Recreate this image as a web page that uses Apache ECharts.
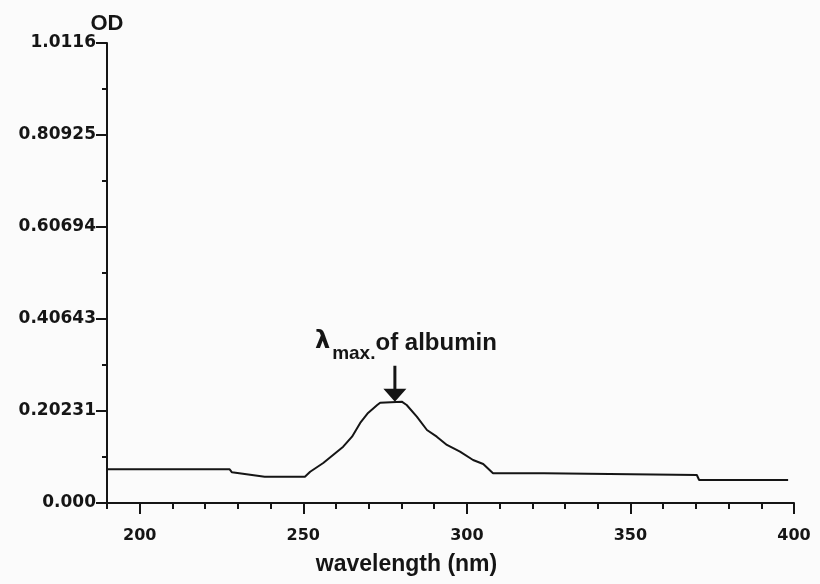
<!DOCTYPE html>
<html>
<head>
<meta charset="utf-8">
<script src="https://cdn.jsdelivr.net/npm/echarts@6/dist/echarts.min.js"></script>
<style>
  html, body { margin: 0; padding: 0; background: #fbfbfb; }
  #chart { width: 820px; height: 584px; }
</style>
</head>
<body>
<div id="chart"></div>
<script>
// wavelength (nm) and OD
var wavelength = [190, 227.5, 228.2, 238.2, 250.5, 252.1, 256.1, 259.1, 262.2, 264.9, 267.4, 269.8, 272.6, 273.5,
                  280.1, 281.6, 284.7, 287.8, 290.8, 293.9, 297.9, 301.9, 305, 308, 323.6, 324.2, 370.3, 371, 398.2];
var od = [0.0741, 0.0741, 0.0675, 0.0578, 0.0578, 0.0688, 0.088, 0.1056, 0.1238, 0.1458, 0.176, 0.198, 0.2155, 0.2206,
          0.2228, 0.2155, 0.1898, 0.1605, 0.1458, 0.1276, 0.1128, 0.0946, 0.0858, 0.0653, 0.0653, 0.0616, 0.0616, 0.0506, 0.0506];
var yTickLabels = ['0.000', '0.20231', '0.40643', '0.60694', '0.80925', '1.0116'];
var xTickLabels = [200, 250, 300, 350, 400];
var peak = [278, 0.2228];

var yMax = 1.0116;
var yStep = yMax / 5;
var ink = '#151515';

var points = [];
for (var i = 0; i < wavelength.length; i++) {
  points.push([wavelength[i], od[i]]);
}

var chart = echarts.init(document.getElementById('chart'));
chart.setOption({
  backgroundColor: '#fbfbfb',
  animation: false,
  grid: { left: 107, right: 26, top: 43, bottom: 81, containLabel: false },
  xAxis: [
    {
      type: 'value',
      min: 190,
      max: 400,
      name: 'wavelength (nm)',
      nameLocation: 'middle',
      nameGap: 50,
      nameTextStyle: {
        fontFamily: 'Liberation Sans', fontWeight: 'bold', fontSize: 23, color: ink,
        padding: [0, 88, 0, 0]
      },
      axisLine: { onZero: false, lineStyle: { color: ink, width: 2 } },
      axisTick: { customValues: xTickLabels, length: 11, lineStyle: { color: ink, width: 2 } },
      axisLabel: {
        customValues: xTickLabels, margin: 25,
        fontFamily: 'DejaVu Sans', fontWeight: 'bold', fontSize: 16, color: ink
      },
      splitLine: { show: false }
    },
    {
      type: 'value',
      position: 'bottom',
      min: 190,
      max: 400,
      interval: 10,
      axisLine: { show: false },
      axisTick: { length: 6, lineStyle: { color: ink, width: 2 } },
      axisLabel: { show: false },
      splitLine: { show: false }
    }
  ],
  yAxis: {
    type: 'value',
    min: 0,
    max: yMax,
    interval: yStep,
    name: 'OD',
    nameLocation: 'end',
    nameGap: 6,
    nameTextStyle: { fontFamily: 'Liberation Sans', fontWeight: 'bold', fontSize: 22, color: ink, align: 'center' },
    axisLine: { show: true, lineStyle: { color: ink, width: 2 } },
    axisTick: { length: 11, lineStyle: { color: ink, width: 2 } },
    minorTick: { show: true, splitNumber: 2, length: 5, lineStyle: { color: ink, width: 2 } },
    axisLabel: {
      showMaxLabel: true, margin: 11,
      fontFamily: 'DejaVu Sans', fontWeight: 'bold', fontSize: 17, color: ink,
      formatter: function (v) { return yTickLabels[Math.round(v / yStep)]; }
    },
    splitLine: { show: false },
    minorSplitLine: { show: false }
  },
  series: [{
    type: 'line',
    xAxisIndex: 0,
    data: points,
    showSymbol: false,
    lineStyle: { color: ink, width: 2 },
    markPoint: {
      silent: true,
      data: [{
        coord: peak,
        symbol: 'path://M10,0 L13,0 L13,23 L23,23 L11.5,36 L0,23 L10,23 Z',
        symbolSize: [23, 36],
        symbolOffset: [0, '-50%'],
        itemStyle: { color: ink },
        label: {
          show: true,
          position: 'top',
          distance: 2,
          offset: [11, 0],
          formatter: '{l|λ}{s|max.}{t|of albumin}',
          rich: {
            l: { fontFamily: 'DejaVu Sans', fontWeight: 'bold', fontSize: 24, color: ink, verticalAlign: 'bottom', padding: [0, 2, 10, 0] },
            s: { fontFamily: 'Liberation Sans', fontWeight: 'bold', fontSize: 19, color: ink, verticalAlign: 'bottom' },
            t: { fontFamily: 'Liberation Sans', fontWeight: 'bold', fontSize: 24, color: ink, verticalAlign: 'bottom', padding: [0, 0, 8, 0] }
          }
        }
      }]
    }
  }]
});
</script>
</body>
</html>
